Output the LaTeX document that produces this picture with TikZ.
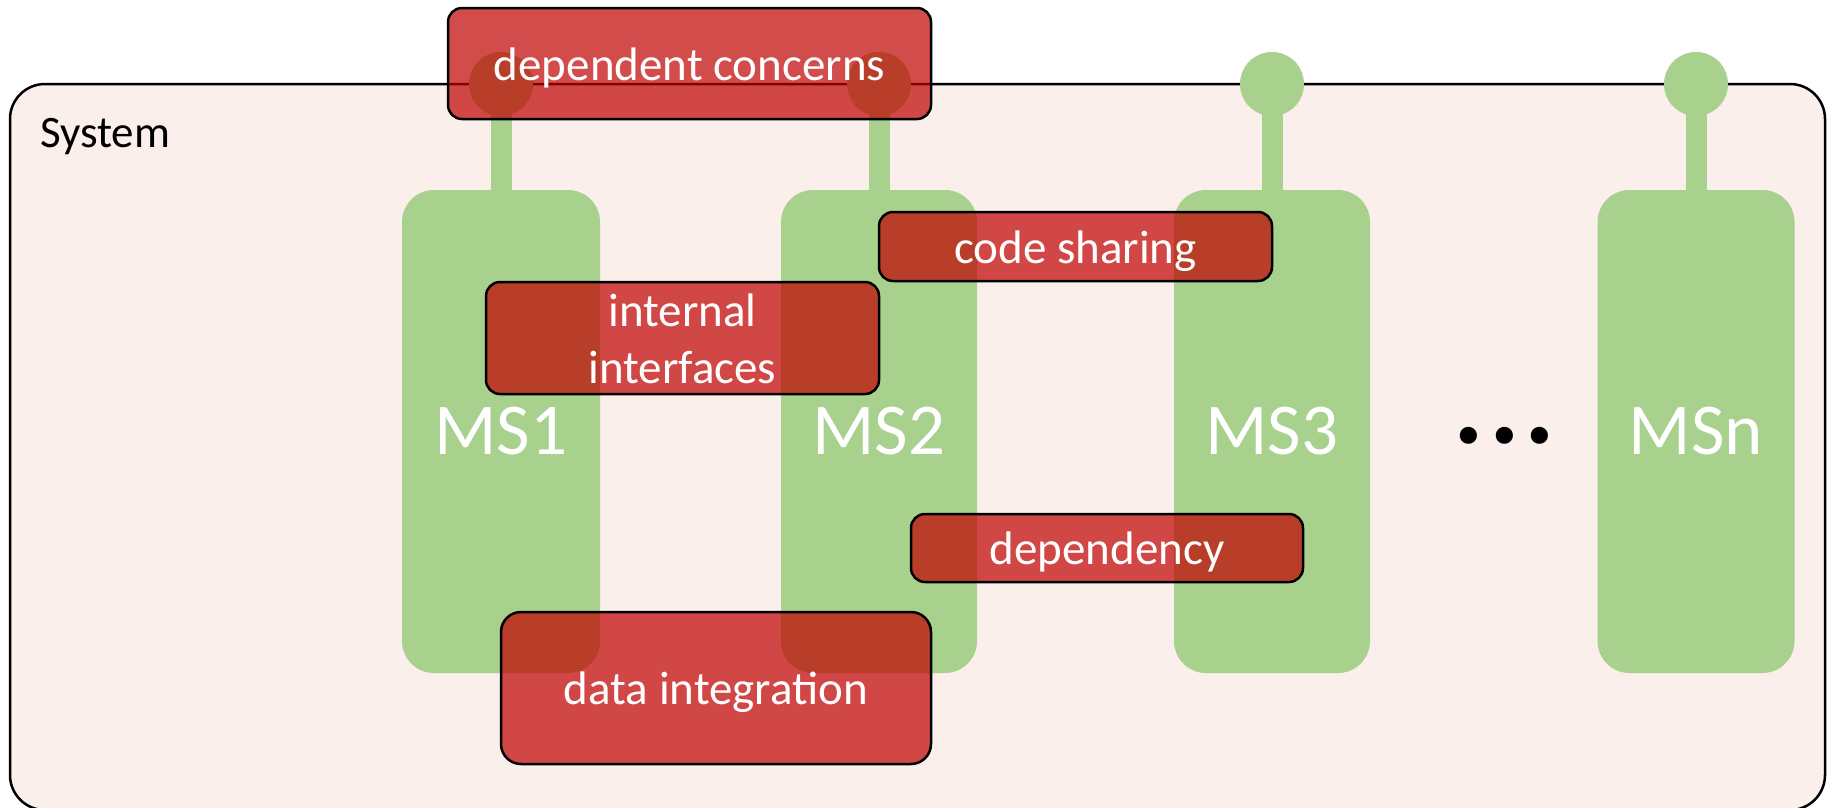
\documentclass[tikz,border=0pt]{standalone}
\usepackage{fontspec}
\setmainfont{Carlito}
\definecolor{msgreen}{HTML}{A9D18E}
\definecolor{sysbg}{HTML}{FAEFEA}
\definecolor{concern}{HTML}{C00000}
\tikzset{
  sysbox/.style={draw=black, line width=2.5pt, fill=sysbg, rounded corners=35pt, inner sep=0pt},
  msbox/.style={fill=msgreen, rounded corners=32pt, inner sep=0pt, minimum width=196pt,
    minimum height=483pt, text=white, font=\fontsize{73}{80}\selectfont},
  knob/.style={circle, fill=msgreen, minimum size=64pt, inner sep=0pt},
  stem/.style={draw=msgreen, line width=21pt},
  concernbox/.style={draw=black, line width=2.5pt, fill=concern, fill opacity=0.7,
    draw opacity=1, text opacity=1, text=white, rounded corners=14pt, inner sep=0pt,
    font=\fontsize{47}{57}\selectfont, text height=33pt, text depth=0pt},
}
\begin{document}
\begin{tikzpicture}[x=1pt,y=-1pt]
  \useasboundingbox (0,0) rectangle (1833,807);
  \clip (0,0) rectangle (1833,807);
  % system
  \node[sysbox, minimum width=1815pt, minimum height=726pt] (sys) at (917.5,447) {};
  \node[anchor=base west, inner sep=0pt, font=\fontsize{45}{54}\selectfont] (syslabel) at (40,147) {System};
  % interface knobs
  \node[knob] (k1) at (501,84) {};
  \node[knob] (k2) at (879,84) {};
  \node[knob] (k3) at (1272,84) {};
  \node[knob] (k4) at (1696,84) {};
  % microservices
  \node[msbox, minimum width=198pt] (ms1) at (501,431.5) {MS1};
  \node[msbox] (ms2) at (879,431.5) {MS2};
  \node[msbox] (ms3) at (1272,431.5) {MS3};
  \node[msbox, minimum width=197pt] (msn) at (1696,431.5) {MSn};
  \draw[stem] (k1.center) -- (ms1.north);
  \draw[stem] (k2.center) -- (ms2.north);
  \draw[stem] (k3.center) -- (ms3.north);
  \draw[stem] (k4.center) -- (msn.north);
  \node[anchor=base, font=\bfseries\fontsize{115}{115}\selectfont] (dots) at (1504.5,443) {.\hspace{5pt}.\hspace{5pt}.};
  % concerns
  \node[concernbox, minimum width=483pt, minimum height=111pt] (dc) at (689.5,63.5) {dependent concerns};
  \node[concernbox, minimum width=393pt, minimum height=112pt, align=center, text height=90pt] (ii) at (682.5,338) {internal\\interfaces};
  \node[concernbox, minimum width=393pt, minimum height=69pt] (cs) at (1075.5,246.5) {code sharing};
  \node[concernbox, minimum width=392pt, minimum height=68pt] (dep) at (1107,548) {dependency};
  \node[concernbox, minimum width=430pt, minimum height=152pt, rounded corners=20pt] (di) at (716,688) {data integration};
\end{tikzpicture}
\end{document}
